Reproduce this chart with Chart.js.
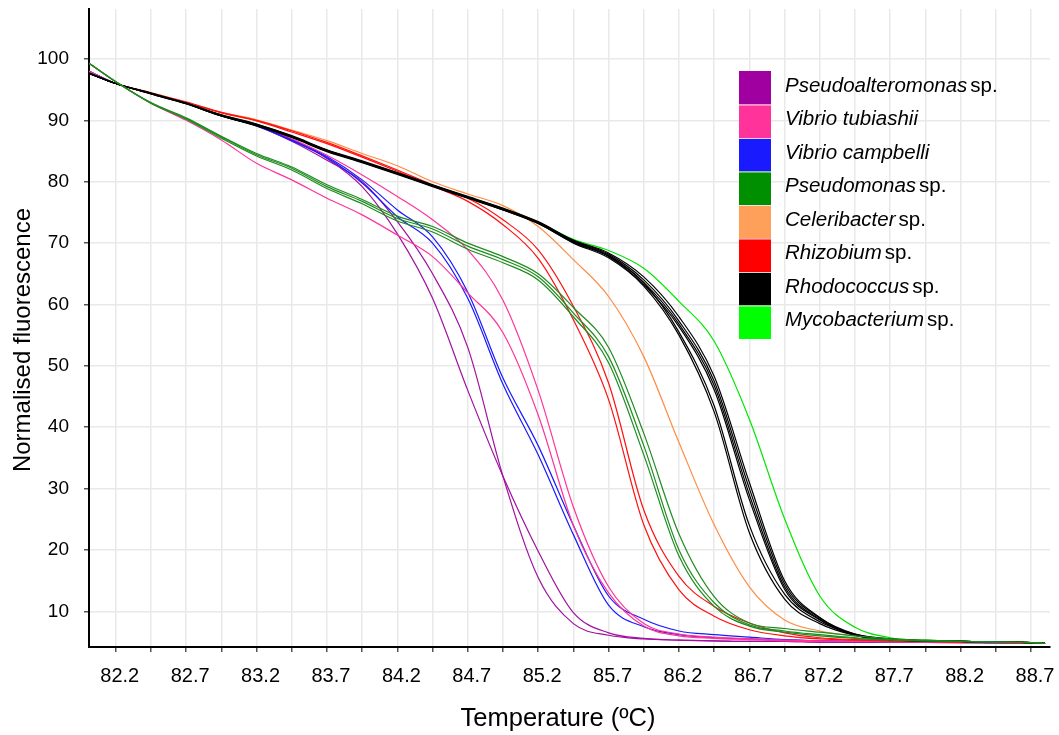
<!DOCTYPE html>
<html>
<head>
<meta charset="utf-8">
<script src="https://cdn.jsdelivr.net/npm/chart.js@4.4.1/dist/chart.umd.min.js"></script>
<style>
  html, body { margin: 0; padding: 0; background: #fff; }
  #wrap { width: 1059px; height: 735px; position: relative; }
</style>
</head>
<body>
<div id="wrap"><canvas id="chart-melt"></canvas></div>
<script>
// temperatures (ºC) at which each melt curve is sampled
const temps = [82.01, 82.2, 82.45, 82.7, 82.95, 83.2, 83.45, 83.7, 83.95, 84.2, 84.45, 84.7, 84.95, 85.2, 85.45,
  85.7, 85.95, 86.2, 86.45, 86.7, 86.95, 87.2, 87.45, 87.7, 87.95, 88.2, 88.45, 88.7, 88.8];

const xTicks = [82.2, 82.45, 82.7, 82.95, 83.2, 83.45, 83.7, 83.95, 84.2, 84.45, 84.7, 84.95, 85.2, 85.45,
  85.7, 85.95, 86.2, 86.45, 86.7, 86.95, 87.2, 87.45, 87.7, 87.95, 88.2, 88.45, 88.7];
const yTicks = [10, 20, 30, 40, 50, 60, 70, 80, 90, 100];

const species = ["Pseudoalteromonas", "Vibrio tubiashii", "Vibrio campbelli", "Pseudomonas",
  "Celeribacter", "Rhizobium", "Rhodococcus", "Mycobacterium"];
const speciesSuffix = ["sp.", "", "", "sp.", "sp.", "sp.", "sp.", "sp."];

// normalised fluorescence, one array per replicate
const pseudoalteromonasA = [98.0, 96.0, 94.4, 92.8, 90.8, 89.2, 86.8, 83.8, 79.2, 71.5, 61.0, 46.0, 32.0, 19.8, 9.8,
  6.5, 5.6, 5.3, 5.2, 5.1, 5.1, 5.0, 5.0, 5.0, 4.95, 4.9, 4.85, 4.8, 4.8];
const pseudoalteromonasB = [98.0, 96.0, 94.4, 92.8, 90.8, 89.1, 86.6, 83.5, 80.0, 73.5, 65.0, 53.0, 32.0, 15.5, 8.0,
  6.1, 5.5, 5.3, 5.2, 5.1, 5.1, 5.0, 5.0, 5.0, 4.95, 4.9, 4.85, 4.8, 4.8];
const tubiashiiA = [98.0, 96.0, 94.4, 92.8, 90.9, 89.3, 87.0, 84.3, 81.1, 77.6, 73.8, 68.9, 60.7, 46.0, 27.0,
  14.0, 8.0, 6.3, 5.8, 5.5, 5.3, 5.2, 5.1, 5.1, 5.0, 5.0, 4.9, 4.85, 4.8];
const tubiashiiB = [99.3, 96.3, 92.8, 90.0, 86.8, 83.0, 80.3, 77.3, 74.6, 71.3, 67.8, 61.9, 55.4, 42.0, 24.0,
  13.0, 7.6, 6.0, 5.6, 5.4, 5.2, 5.1, 5.1, 5.0, 5.0, 4.95, 4.9, 4.85, 4.8];
const campbelliA = [98.0, 96.0, 94.4, 92.8, 90.8, 89.2, 86.9, 84.1, 80.3, 75.4, 71.0, 62.0, 48.0, 37.0, 24.0,
  12.5, 8.7, 6.8, 6.2, 5.8, 5.4, 5.2, 5.1, 5.1, 5.0, 5.0, 4.9, 4.85, 4.8];
const campbelliB = [98.0, 96.0, 94.4, 92.8, 90.8, 89.1, 86.7, 83.9, 79.8, 74.3, 70.0, 61.0, 47.0, 35.5, 22.5,
  11.0, 7.5, 6.2, 5.7, 5.5, 5.3, 5.2, 5.1, 5.0, 5.0, 5.0, 4.9, 4.85, 4.8];
const pseudomonasA = [99.3, 96.3, 92.8, 90.3, 87.3, 84.4, 82.2, 79.2, 76.8, 74.0, 72.3, 69.5, 67.3, 64.5, 58.6,
  51.5, 37.0, 20.0, 11.4, 7.8, 6.8, 6.2, 5.7, 5.4, 5.2, 5.1, 5.0, 4.9, 4.8];
const pseudomonasB = [99.3, 96.3, 92.8, 90.2, 87.1, 84.2, 81.9, 78.9, 76.4, 73.6, 71.8, 69.0, 66.8, 64.0, 58.0,
  50.5, 35.5, 19.0, 10.8, 7.6, 6.6, 6.0, 5.6, 5.3, 5.2, 5.1, 5.0, 4.9, 4.8];
const pseudomonasC = [99.3, 96.3, 92.9, 90.4, 87.4, 84.6, 82.4, 79.5, 77.1, 74.4, 72.7, 70.0, 67.8, 65.0, 59.5,
  53.0, 39.0, 22.6, 12.4, 8.1, 7.2, 6.6, 6.0, 5.5, 5.3, 5.1, 5.0, 4.9, 4.8];
const celeribacter = [97.7, 96.0, 94.4, 92.9, 91.3, 90.1, 88.4, 86.7, 84.6, 82.6, 80.0, 78.0, 76.1, 72.7, 67.3,
  61.3, 51.5, 37.5, 24.1, 14.0, 8.6, 6.8, 6.0, 5.5, 5.3, 5.1, 5.0, 4.9, 4.8];
const rhizobiumA = [97.7, 96.0, 94.5, 93.0, 91.3, 90.0, 88.3, 86.4, 84.2, 81.9, 79.5, 77.3, 73.8, 68.9, 59.7,
  47.2, 26.5, 15.7, 10.8, 8.1, 6.5, 5.7, 5.4, 5.2, 5.1, 5.0, 4.95, 4.85, 4.8];
const rhizobiumB = [97.7, 96.0, 94.5, 92.9, 91.2, 89.9, 88.1, 86.2, 84.0, 81.7, 79.3, 76.8, 73.0, 67.5, 57.5,
  44.5, 24.1, 13.5, 9.2, 7.0, 6.0, 5.5, 5.3, 5.2, 5.1, 5.0, 4.95, 4.85, 4.8];
const rhodococcusA = [97.7, 96.0, 94.4, 92.8, 90.9, 89.4, 87.5, 85.2, 83.4, 81.5, 79.5, 77.6, 75.7, 73.5, 70.5,
  68.4, 64.5, 58.0, 48.3, 31.0, 15.0, 9.0, 6.3, 5.4, 5.2, 5.1, 5.0, 4.9, 4.8];
const rhodococcusB = [97.7, 96.0, 94.4, 92.8, 90.8, 89.3, 87.4, 85.1, 83.3, 81.4, 79.4, 77.5, 75.6, 73.4, 70.4,
  68.2, 64.0, 57.3, 47.5, 30.0, 14.5, 8.9, 6.2, 5.4, 5.2, 5.1, 5.0, 4.9, 4.8];
const rhodococcusC = [97.6, 96.0, 94.4, 92.7, 90.7, 89.2, 87.3, 85.0, 83.2, 81.3, 79.3, 77.4, 75.5, 73.3, 70.3,
  68.0, 63.6, 56.8, 46.8, 29.0, 14.0, 8.7, 6.1, 5.4, 5.2, 5.1, 5.0, 4.9, 4.8];
const rhodococcusD = [97.6, 96.0, 94.3, 92.7, 90.7, 89.1, 87.2, 84.9, 83.1, 81.2, 79.2, 77.3, 75.4, 73.2, 70.1,
  67.8, 63.2, 56.4, 46.1, 28.2, 13.6, 8.6, 6.1, 5.4, 5.2, 5.1, 5.0, 4.9, 4.8];
const rhodococcusE = [97.7, 96.0, 94.4, 92.8, 90.8, 89.3, 87.4, 85.1, 83.3, 81.4, 79.4, 77.5, 75.5, 73.3, 70.2,
  67.9, 63.5, 55.5, 43.5, 24.0, 12.8, 8.3, 6.3, 5.5, 5.2, 5.1, 5.0, 4.9, 4.8];
const rhodococcusF = [97.6, 96.0, 94.3, 92.7, 90.7, 89.2, 87.3, 85.0, 83.2, 81.3, 79.3, 77.4, 75.4, 73.2, 70.0,
  67.6, 63.0, 55.0, 42.5, 22.8, 12.0, 8.0, 6.1, 5.4, 5.2, 5.1, 5.0, 4.9, 4.8];
const mycobacterium = [97.7, 96.0, 94.4, 92.8, 90.9, 89.4, 87.4, 85.1, 83.3, 81.4, 79.4, 77.5, 75.6, 73.4, 70.6,
  68.8, 65.9, 60.5, 54.0, 41.3, 25.1, 12.5, 7.4, 5.7, 5.3, 5.1, 5.0, 4.9, 4.8];

const xTitle = "Temperature (ºC)";
const yTitle = "Normalised fluorescence";

(function () {
  const el = document.getElementById("chart-melt");
  if (!el || typeof Chart === "undefined") return;

  const font = "'Liberation Sans', Arial, sans-serif";
  const swatch = ["#a0009f", "#ff3399", "#1a1aff", "#008f00", "#ffa05a", "#ff0000", "#000000", "#00ff00"];
  const stroke = ["#a0109f", "#ff3399", "#1a1aff", "#1e8c1e", "#ff8c42", "#ff1010", "#000000", "#00e600"];
  const grid = "#e9e9e9";

  // replicates, listed top-most first (Chart.js paints dataset 0 last)
  const curves = [
    [3, pseudomonasA], [3, pseudomonasB], [3, pseudomonasC],
    [6, rhodococcusA], [6, rhodococcusB], [6, rhodococcusC], [6, rhodococcusD], [6, rhodococcusE], [6, rhodococcusF],
    [7, mycobacterium],
    [5, rhizobiumA], [5, rhizobiumB],
    [4, celeribacter],
    [1, tubiashiiA], [1, tubiashiiB],
    [2, campbelliA], [2, campbelliB],
    [0, pseudoalteromonasA], [0, pseudoalteromonasB],
  ];

  const datasets = curves.map(([s, vals]) => ({
    label: species[s],
    data: temps.map((t, i) => ({ x: t, y: vals[i] })),
    borderColor: stroke[s],
    borderWidth: 1.2,
    pointRadius: 0,
    fill: false,
    cubicInterpolationMode: "monotone",
  }));

  const legendBox = {
    id: "legendBox",
    afterDraw(chart) {
      const { ctx } = chart;
      ctx.save();
      species.forEach((name, i) => {
        const top = 71 + i * 33.5;
        ctx.fillStyle = swatch[i];
        ctx.fillRect(739, top, 32, 33.5);
        if (i > 0) {
          ctx.fillStyle = "rgba(235,235,235,0.9)";
          ctx.fillRect(739, top, 32, 1);
        }
        ctx.fillStyle = "#000";
        ctx.textBaseline = "alphabetic";
        ctx.textAlign = "left";
        ctx.font = "italic 20.5px " + font;
        ctx.fillText(name, 785, top + 20.7);
        if (speciesSuffix[i]) {
          const w = ctx.measureText(name).width;
          ctx.font = "20.5px " + font;
          ctx.fillText(speciesSuffix[i], 785 + w + 3, top + 20.7);
        }
      });
      ctx.restore();
    },
  };

  const axisTitles = {
    id: "axisTitles",
    afterDraw(chart) {
      const { ctx } = chart;
      ctx.save();
      ctx.fillStyle = "#000";
      ctx.textAlign = "center";
      ctx.textBaseline = "middle";
      ctx.font = "25.5px " + font;
      ctx.fillText(xTitle, 558, 719);
      ctx.font = "24px " + font;
      ctx.translate(23, 340);
      ctx.rotate(-Math.PI / 2);
      ctx.fillText(yTitle, 0, 0);
      ctx.restore();
    },
  };

  new Chart(el, {
    type: "line",
    data: { datasets },
    plugins: [legendBox, axisTitles],
    options: {
      responsive: true,
      maintainAspectRatio: false,
      animation: false,
      devicePixelRatio: 1,
      layout: { padding: { top: 9, right: 9, left: 0, bottom: 0 } },
      plugins: { legend: { display: false }, tooltip: { enabled: false } },
      scales: {
        x: {
          type: "linear",
          min: 82.01,
          max: 88.835,
          afterBuildTicks(scale) { scale.ticks = xTicks.map((v) => ({ value: v })); },
          afterFit(scale) {
            scale.height = 88;
            scale.paddingLeft = 0;
            scale.paddingRight = 0;
          },
          grid: { color: grid, lineWidth: 1.5, tickLength: 5, tickColor: "#555" },
          border: { color: "#000", width: 2 },
          ticks: {
            color: "#000",
            font: { family: font, size: 20 },
            padding: 12,
            maxRotation: 0,
            autoSkip: false,
            labelOffset: 4,
            callback: (v, i) => (i % 2 === 0 ? Number(v).toFixed(1) : ""),
          },
        },
        y: {
          min: 4.19,
          max: 108.14,
          afterBuildTicks(scale) { scale.ticks = yTicks.map((v) => ({ value: v })); },
          afterFit(scale) {
            scale.width = 89;
            scale.paddingTop = 0;
            scale.paddingBottom = 0;
          },
          grid: { color: grid, lineWidth: 1.5, tickLength: 5, tickColor: "#555" },
          border: { color: "#000", width: 2 },
          ticks: { color: "#000", font: { family: font, size: 19 }, padding: 15 },
        },
      },
    },
  });
})();
</script>
</body>
</html>
